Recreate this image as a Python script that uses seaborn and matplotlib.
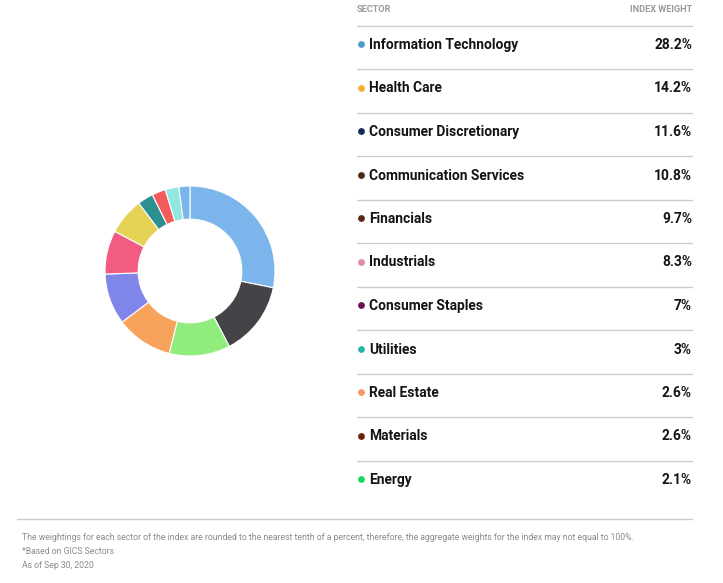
import matplotlib
matplotlib.use('Agg')
import matplotlib.pyplot as plt
import seaborn as sns

sectors = ['Information Technology', 'Health Care', 'Consumer Discretionary',
           'Communication Services', 'Financials', 'Industrials', 'Consumer Staples',
           'Utilities', 'Real Estate', 'Materials', 'Energy']
weights = [28.2, 14.2, 11.6, 10.8, 9.7, 8.3, 7, 3, 2.6, 2.6, 2.1]
weight_labels = ['28.2%', '14.2%', '11.6%', '10.8%', '9.7%', '8.3%', '7%', '3%', '2.6%', '2.6%', '2.1%']

# colours of the legend dots (they don't match the donut, as in the original)
dot_colors = ['#4b9cc8', '#f7ad2e', '#0e2a56', '#4b2614', '#55290e', '#e08ca3',
              '#6b1152', '#2bb3a3', '#f7976d', '#6a200f', '#1ed760']
# donut uses the default highcharts-like palette
slice_colors = ['#7cb5ec', '#434348', '#90ed7d', '#f7a35c', '#8085e9', '#f15c80',
                '#e4d354', '#2b908f', '#f45b5b', '#91e8e1', '#7cb5ec']

footnotes = ['The weightings for each sector of the index are rounded to the nearest tenth of a percent, '
             'therefore, the aggregate weights for the index may not equal to 100%.',
             '*Based on GICS Sectors',
             'As of Sep 30, 2020']

sns.set_theme(style='white')
plt.rcParams['font.family'] = ['Roboto', 'DejaVu Sans']

W, H = 723, 583
fig = plt.figure(figsize=(W / 100, H / 100), dpi=100)
fig.patch.set_facecolor('white')

# table / text layer in pixel coordinates
ax = fig.add_axes([0, 0, 1, 1])
ax.set_xlim(0, W)
ax.set_ylim(H, 0)
ax.axis('off')

x0, x1 = 357, 692
ax.text(x0, 9, 'SECTOR', fontsize=6.6, fontweight='bold', color='#9a9a9a', va='center', ha='left')
ax.text(x1, 9, 'INDEX WEIGHT', fontsize=6.6, fontweight='bold', color='#9a9a9a', va='center', ha='right')
ax.plot([x0, x1], [26, 26], color='#cccccc', lw=1)

row_h = 43.5
first_y = 44
for i, (name, lab, c) in enumerate(zip(sectors, weight_labels, dot_colors)):
    y = first_y + i * row_h
    ax.scatter([361], [y], s=24, color=c, zorder=3, linewidths=0)
    ax.text(369, y + 1, name, fontsize=9.9, fontweight='bold', color='#141414', va='center', ha='left')
    ax.text(x1, y + 1, lab, fontsize=9.9, fontweight='bold', color='#141414', va='center', ha='right')
    if i < len(sectors) - 1:
        ax.plot([x0, x1], [y + 25, y + 25], color='#cccccc', lw=1)

ax.plot([17, 692], [519, 519], color='#cccccc', lw=1)
for j, t in enumerate(footnotes):
    ax.text(22, 537 + j * 14.5, t, fontsize=6.2, color='#8a8a8a', va='center', ha='left')

# donut
cx, cy, r = 190, 271, 85
pax = fig.add_axes([(cx - r) / W, (H - cy - r) / H, 2 * r / W, 2 * r / H])
pax.pie(weights, colors=slice_colors, startangle=90, counterclock=False,
        wedgeprops=dict(width=0.39, edgecolor='white', linewidth=0.8))
pax.set_xlim(-1, 1)
pax.set_ylim(-1, 1)
pax.set_aspect('equal')
pax.axis('off')

plt.savefig('out.png', dpi=100)
